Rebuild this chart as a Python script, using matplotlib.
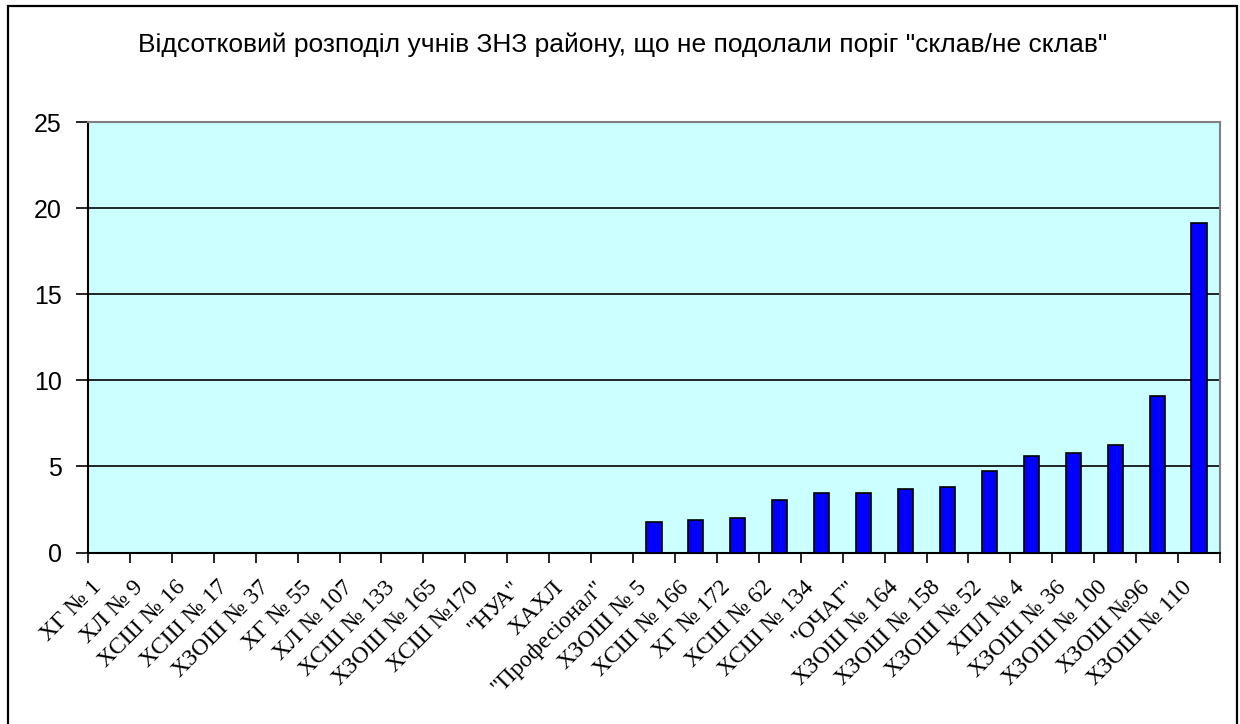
import matplotlib
matplotlib.use("Agg")
import matplotlib.pyplot as plt
from matplotlib.patches import Rectangle
import numpy as np

title = 'Відсотковий розподіл учнів ЗНЗ району, що не подолали поріг "склав/не склав"'
categories = ["ХГ № 1", "ХЛ № 9", "ХСШ № 16", "ХСШ № 17", "ХЗОШ № 37", "ХГ № 55",
              "ХЛ № 107", "ХСШ № 133", "ХЗОШ № 165", "ХСШ №170", '"НУА"', "ХАХЛ",
              '"Професіонал"', "ХЗОШ № 5", "ХСШ № 166", "ХГ № 172", "ХСШ № 62",
              "ХСШ № 134", '"ОЧАГ"', "ХЗОШ № 164", "ХЗОШ № 158", "ХЗОШ № 52",
              "ХПЛ № 4", "ХЗОШ № 36", "ХЗОШ № 100", "ХЗОШ №96", "ХЗОШ № 110"]
values = [0, 0, 0, 0, 0, 0, 0, 0, 0, 0, 0, 0, 0,
          1.76, 1.88, 1.99, 3.06, 3.47, 3.47, 3.70, 3.80, 4.74, 5.58, 5.79, 6.22, 9.09, 19.13]
yticks = [0, 5, 10, 15, 20, 25]

W, H = 1240, 724
fig = plt.figure(figsize=(W / 100, H / 100), dpi=100)
fig.patch.set_facecolor("white")
# outer chart border
fig.add_artist(Rectangle((8 / W, -5 / H), (1236.5 - 8) / W, (718 + 5) / H,
                         transform=fig.transFigure, fill=False, edgecolor="black", lw=1.6))

ax = fig.add_axes([88 / W, (H - 552.5) / H, (1220 - 88) / W, (552.5 - 122.3) / H])
ax.set_facecolor("#CCFFFF")
n = len(categories)
x = np.arange(n)
ax.bar(x, values, width=0.36, color="#0000FF", edgecolor="black", linewidth=1.2, zorder=3)
ax.set_xlim(-0.5, n - 0.5)
ax.set_ylim(0, 25)
ax.set_yticks(yticks)
ax.set_yticklabels([str(t) for t in yticks], fontsize=18, family="Liberation Sans")
for t in yticks[1:-1]:
    ax.axhline(t, color="black", lw=1.2, zorder=1)

# x ticks at category boundaries
ax.set_xticks(np.arange(-0.5, n, 1.0))
ax.set_xticklabels([])
ax.tick_params(axis="x", length=7, width=1.2, direction="out")
ax.tick_params(axis="y", length=9, width=1.2, direction="out", pad=10)
for i, lab in enumerate(categories):
    ax.text(i - 0.25, -1.85, lab, rotation=45, ha="right", va="center",
            rotation_mode="anchor", fontsize=17, family="Liberation Serif")

for s in ["left", "bottom"]:
    ax.spines[s].set_color("black")
    ax.spines[s].set_linewidth(1.5)
for s in ["top", "right"]:
    ax.spines[s].set_color("#808080")
    ax.spines[s].set_linewidth(1.5)

fig.text(623 / W, 1 - 45 / H, title, ha="center", va="center", fontsize=19,
         family="Liberation Sans")

fig.savefig("out.png", dpi=100)
